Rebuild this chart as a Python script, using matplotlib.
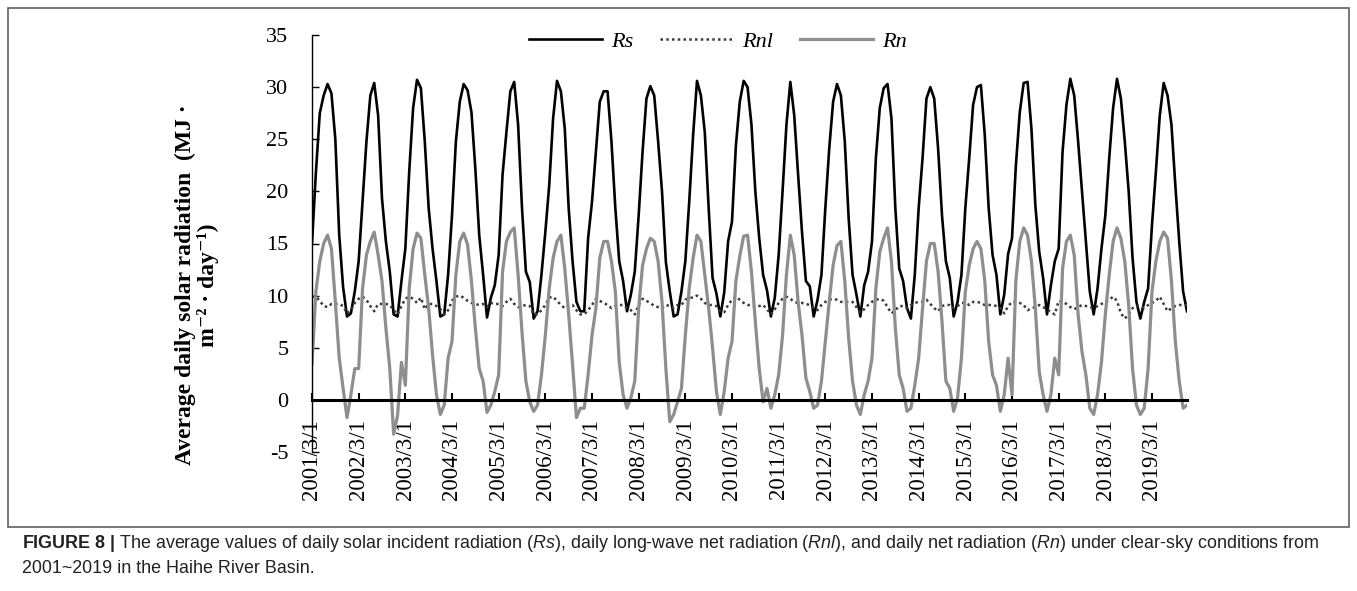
import matplotlib.pyplot as plt
from matplotlib.patches import Rectangle
import numpy as np

# monthly values, 2001/3 .. 2019/12, one row per year (Mar..Feb)
rs = [
    15.0, 21.8, 27.5, 29.2, 30.3, 29.4, 25.0, 15.8, 10.8, 8.0, 8.3, 10.4,
    13.3, 19.0, 24.8, 29.2, 30.4, 27.3, 19.3, 15.2, 12.3, 8.2, 8.0, 11.4,
    14.5, 21.9, 28.0, 30.7, 29.9, 24.8, 18.4, 14.5, 11.4, 8.0, 8.2, 12.0,
    17.7, 24.8, 28.6, 30.3, 29.7, 27.6, 22.2, 15.8, 12.0, 7.9, 9.8, 11.0,
    13.9, 21.6, 25.7, 29.6, 30.5, 26.4, 18.4, 12.3, 11.3, 7.8, 8.5, 12.0,
    16.1, 20.6, 27.0, 30.6, 29.6, 26.0, 18.4, 13.3, 9.4, 8.5, 8.5, 15.5,
    19.0, 23.8, 28.6, 29.6, 29.6, 24.8, 18.4, 13.3, 11.4, 8.5, 10.1, 12.3,
    17.7, 23.8, 28.9, 30.1, 29.2, 24.8, 20.0, 13.2, 10.4, 8.0, 8.2, 10.4,
    13.3, 19.0, 25.4, 30.6, 29.2, 25.7, 18.4, 11.7, 10.2, 8.0, 10.3, 15.2,
    17.1, 24.4, 28.6, 30.6, 30.0, 26.4, 20.0, 15.5, 12.0, 10.5, 8.0, 9.8,
    13.9, 20.0, 26.4, 30.5, 27.3, 21.6, 16.1, 11.4, 10.9, 8.0, 9.6, 12.0,
    18.4, 24.1, 28.6, 30.3, 29.2, 24.8, 17.4, 12.0, 10.1, 8.0, 11.0, 12.3,
    15.2, 23.2, 28.0, 29.9, 30.3, 27.0, 18.4, 12.6, 11.4, 8.8, 7.8, 12.0,
    18.4, 23.2, 28.9, 30.0, 28.9, 24.1, 17.7, 13.3, 11.7, 8.0, 9.4, 12.0,
    18.4, 23.2, 28.3, 30.0, 30.2, 25.4, 18.4, 13.9, 12.0, 8.2, 10.1, 14.0,
    15.5, 22.5, 27.6, 30.4, 30.5, 26.0, 18.7, 14.2, 11.7, 8.2, 11.0, 13.3,
    14.5, 23.8, 28.3, 30.8, 29.2, 24.8, 20.0, 15.2, 10.4, 8.2, 10.7, 14.5,
    17.7, 23.2, 28.0, 30.8, 28.9, 24.8, 20.0, 13.6, 9.4, 7.8, 9.4, 10.7,
    16.8, 21.9, 27.3, 30.4, 29.2, 26.4, 20.6, 15.2, 10.4, 8.5,
]

rnl = [
    9.9, 9.9, 9.5, 9.0, 8.9, 9.2, 9.2, 9.2, 9.0, 8.3, 8.6, 9.3,
    9.7, 9.9, 9.6, 9.0, 8.5, 9.2, 9.2, 9.2, 9.1, 8.6, 8.2, 9.0,
    9.7, 9.9, 9.7, 9.3, 9.8, 8.7, 9.2, 9.2, 9.0, 8.7, 8.2, 8.6,
    9.5, 9.9, 10.0, 9.8, 9.5, 9.3, 9.2, 9.1, 9.2, 8.9, 9.3, 9.2,
    9.2, 9.0, 9.4, 9.7, 9.2, 8.9, 9.0, 9.1, 9.0, 8.2, 8.2, 8.6,
    9.1, 9.8, 9.9, 9.5, 9.1, 8.8, 9.0, 9.1, 8.6, 8.2, 8.2, 8.6,
    9.1, 9.7, 9.5, 9.3, 9.1, 8.8, 9.0, 9.1, 9.1, 8.8, 8.6, 8.2,
    9.1, 9.7, 9.5, 9.3, 9.0, 8.9, 8.8, 9.1, 9.0, 8.8, 9.1, 9.1,
    9.6, 9.8, 9.8, 10.0, 9.7, 9.3, 9.1, 9.1, 9.0, 8.5, 8.4, 9.1,
    9.6, 9.9, 9.6, 9.3, 9.1, 9.1, 8.9, 9.0, 9.1, 8.7, 8.2, 8.7,
    9.3, 9.7, 9.9, 9.7, 9.4, 9.3, 9.3, 9.2, 9.1, 8.8, 8.6, 9.1,
    9.4, 9.6, 9.7, 9.6, 9.4, 9.4, 9.4, 9.4, 8.9, 8.4, 8.7, 9.1,
    9.4, 9.6, 9.7, 9.5, 8.9, 8.3, 8.6, 9.0, 9.0, 8.8, 9.1, 9.3,
    9.4, 9.4, 9.6, 9.2, 8.8, 8.5, 9.0, 9.1, 9.1, 8.8, 9.0, 9.3,
    9.3, 9.1, 9.4, 9.4, 9.3, 9.1, 9.1, 9.1, 9.0, 8.8, 8.3, 9.0,
    9.4, 9.4, 9.3, 9.1, 8.6, 8.8, 8.9, 9.1, 8.9, 8.7, 8.4, 8.2,
    9.5, 9.4, 9.2, 8.9, 8.7, 8.9, 9.1, 9.0, 8.9, 8.8, 9.0, 9.2,
    9.4, 9.6, 9.9, 9.5, 8.3, 7.8, 8.2, 8.8, 9.0, 9.0, 8.8, 9.1,
    9.3, 9.5, 9.9, 9.2, 8.5, 8.8, 9.0, 9.1, 9.1, 9.1,
]

rn = [
    3.4, 10.4, 13.3, 15.0, 15.8, 14.5, 9.4, 4.0, 1.1, -1.7, 0.5, 3.0,
    3.0, 10.7, 13.9, 15.2, 16.1, 13.9, 11.4, 6.9, 3.0, -3.3, -1.5, 3.6,
    1.4, 10.7, 14.5, 16.0, 15.5, 12.0, 8.8, 4.3, 0.5, -1.4, -0.5, 4.0,
    5.6, 12.0, 15.2, 16.0, 14.9, 11.4, 6.9, 3.0, 1.8, -1.2, -0.5, 0.8,
    2.4, 12.3, 15.2, 16.1, 16.5, 12.0, 6.5, 1.8, -0.2, -1.1, -0.5, 2.4,
    6.2, 10.7, 13.6, 15.2, 15.8, 12.6, 8.2, 3.4, -1.7, -0.8, -0.8, 2.4,
    6.2, 8.8, 13.6, 15.2, 15.2, 13.3, 10.4, 3.6, 0.5, -0.8, 0.2, 1.8,
    8.8, 12.9, 14.5, 15.5, 15.2, 13.3, 9.4, 3.0, -2.1, -1.4, -0.2, 1.1,
    6.2, 10.7, 13.6, 15.8, 15.2, 12.0, 8.8, 5.0, 0.8, -1.4, 0.8, 4.0,
    5.6, 11.4, 13.8, 15.7, 15.8, 12.3, 7.5, 3.0, -0.2, 1.1, -0.8, 0.5,
    2.4, 6.2, 12.0, 15.8, 13.9, 9.4, 6.2, 2.1, 0.8, -0.8, -0.5, 1.8,
    5.6, 9.4, 12.9, 14.8, 15.2, 11.4, 5.9, 1.8, -0.5, -1.4, 0.5, 1.8,
    4.0, 10.7, 14.2, 15.5, 16.5, 13.3, 6.9, 2.4, 1.1, -1.1, -0.8, 1.4,
    4.0, 8.8, 13.3, 15.0, 15.0, 12.3, 7.5, 1.8, 1.1, -1.1, 0.2, 4.0,
    10.4, 12.9, 14.5, 15.2, 14.5, 11.4, 5.6, 2.4, 1.4, -1.1, 0.5, 4.0,
    0.5, 11.5, 15.2, 16.5, 15.8, 13.3, 8.8, 2.7, 0.5, -1.1, 0.5, 4.0,
    2.4, 12.6, 15.2, 15.8, 13.9, 8.2, 4.6, 2.4, -0.8, -1.4, 0.5, 3.6,
    8.2, 12.0, 15.2, 16.5, 15.5, 13.3, 9.1, 3.0, -0.5, -1.4, -0.8, 3.0,
    10.4, 13.3, 15.2, 16.1, 15.5, 11.4, 5.6, 1.8, -0.8, -0.5,
]

years = list(range(2001, 2020))
tick_labels = ['{}/3/1'.format(y) for y in years]
yticks = [-5, 0, 5, 10, 15, 20, 25, 30, 35]

serif = ['Liberation Serif', 'DejaVu Serif']
sans = ['Liberation Sans', 'DejaVu Sans']
plt.rcParams['mathtext.fontset'] = 'custom'
plt.rcParams['mathtext.rm'] = 'Liberation Sans'
plt.rcParams['mathtext.it'] = 'Liberation Sans:italic'
plt.rcParams['mathtext.bf'] = 'Liberation Sans:bold'

W, H = 1357, 591
fig = plt.figure(figsize=(W / 100, H / 100), dpi=100)
ax = fig.add_axes([312 / W, 1 - 452 / H, 875 / W, 417 / H])

x = np.arange(len(rs))
ax.plot(x, rs, color='black', lw=1.9, label='Rs')
ax.plot(x, rnl, color='#3a3a3a', lw=1.8, ls=(0, (1, 1.3)), label='Rnl')
ax.plot(x, rn, color='#8e8e8e', lw=2.3, label='Rn')

# spine position first: moving it resets the tick labels
ax.spines['top'].set_visible(False)
ax.spines['right'].set_visible(False)
ax.spines['bottom'].set_position(('data', 0))
ax.spines['bottom'].set_linewidth(2.2)
ax.spines['left'].set_linewidth(1.0)

ax.set_xlim(0, len(rs) - 1)
ax.set_ylim(-5, 35)
ax.set_yticks(yticks)
ax.set_yticklabels([str(v) for v in yticks], family=serif, fontsize=16)
ax.set_xticks(np.arange(len(years)) * 12)
ax.set_xticklabels(tick_labels, family=serif, fontsize=16.5, rotation=90)
ax.tick_params(axis='y', direction='in', length=5, width=1, pad=17)
ax.tick_params(axis='x', direction='in', length=5, width=1.5, pad=14)
ax.set_facecolor('none')

fig.text(197 / W, 1 - 285 / H,
         'Average daily solar radiation  (MJ \u00b7\nm\u207b\u00b2 \u00b7 day\u207b\u00b9)',
         rotation=90, ha='center', va='center', multialignment='center',
         family=serif, fontweight='bold', fontsize=17, linespacing=1.1)

fig.legend(loc='center', bbox_to_anchor=(718 / W, 1 - 42 / H), ncol=3,
           frameon=False, handlelength=3.3, handletextpad=0.4, columnspacing=1.2,
           prop={'family': serif, 'style': 'italic', 'size': 16})

# outer frame around the chart
fig.patches.append(Rectangle((8 / W, 1 - 527 / H), 1341 / W, 519 / H,
                             transform=fig.transFigure, fill=False,
                             edgecolor='#606060', lw=1.2))

cap1 = (r'$\mathbf{FIGURE\ 8\ |}$ The average values of daily solar incident radiation ($Rs$), '
        r'daily long-wave net radiation ($Rnl$), and daily net radiation ($Rn$) under clear-sky conditions from')
cap2 = '2001~2019 in the Haihe River Basin.'
fig.text(22 / W, 1 - 548 / H, cap1, family=sans, fontsize=12.9, va='baseline', color='#222222')
fig.text(22 / W, 1 - 573 / H, cap2, family=sans, fontsize=12.9, va='baseline', color='#222222')

fig.savefig('out.png', dpi=100)
